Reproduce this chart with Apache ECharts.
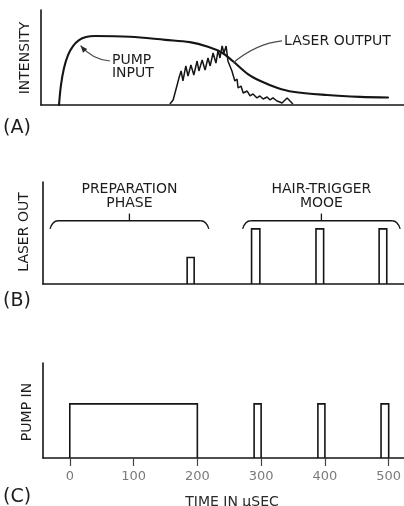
<!DOCTYPE html>
<html>
<head>
<meta charset="utf-8">
<script src="https://cdn.jsdelivr.net/npm/echarts@6/dist/echarts.min.js"></script>
<style>
  html, body { margin: 0; padding: 0; background: #fff; }
  #chart { width: 404px; height: 506px; }
</style>
</head>
<body>
<div id="chart"></div>
<script>
// (A) normal-mode pulse: time in arbitrary units (0-100), relative intensity (0-100)
const pumpInputA = [
  [4.96, 0], [5.51, 21.1], [6.34, 38.9], [7.44, 52.6], [8.82, 62.1], [10.47, 68.4],
  [12.4, 71.6], [14.9, 72.6], [24.5, 71.8], [34.2, 68.6], [41.0, 66.2], [46.0, 61.3],
  [49.9, 55.0], [52.9, 46.0], [57.0, 32.5], [60.3, 25.5], [65.0, 18.2], [69.4, 13.9],
  [78.8, 10.5], [87.9, 8.6], [95.6, 7.9]
];
const laserOutputA = [
  [35.5, 1.0], [36.4, 5.3], [37.5, 21.1], [38.0, 28.4], [38.6, 35.8], [39.1, 25.3],
  [39.9, 41.1], [40.5, 30.5], [41.3, 42.1], [42.1, 31.6], [43.0, 46.3], [43.5, 35.8],
  [44.4, 47.4], [45.2, 36.8], [46.0, 49.5], [46.6, 41.1], [47.4, 54.7], [48.2, 44.2],
  [48.8, 57.9], [49.3, 49.5], [49.9, 62.1], [50.4, 54.7], [51.0, 62.1], [51.5, 46.3],
  [51.8, 48.4], [52.6, 35.8], [52.9, 36.8], [53.4, 25.3], [54.0, 27.4], [54.3, 17.9],
  [55.1, 20.0], [55.7, 12.6], [56.8, 14.7], [57.6, 9.5], [58.4, 11.6], [59.5, 7.4],
  [60.3, 9.5], [61.2, 6.3], [62.3, 8.4], [63.1, 5.3], [63.9, 7.4], [65.0, 4.2],
  [65.8, 3.2], [66.4, 2.1], [66.9, 1.0], [67.8, 7.4], [69.4, 1.0]
];

// (B) and (C): time in µs
const timeTicks = [0, 100, 200, 300, 400, 500];
// pulses as [start µs, end µs, relative height]
const laserOutPulses = [[184, 195, 26], [285, 298, 54], [386, 398, 54], [485, 497, 54]];
const pumpInPulses = [[0, 200, 57], [289, 300, 57], [389, 400, 57], [488, 500, 57]];
// phase brackets over the laser-output trace: [from µs, to µs]
const phaseSpans = [[-31, 218], [271, 518]];
const phaseNames = [['PREPARATION', 'PHASE'], ['HAIR-TRIGGER', 'MOOE']];

const INK = '#151515';
const FONT = '"DejaVu Sans", sans-serif';

const chart = echarts.init(document.getElementById('chart'), null, { renderer: 'canvas' });

function plainAxis(extra) {
  return Object.assign({
    type: 'value',
    axisLine: { show: true, onZero: false, lineStyle: { color: INK, width: 1.6 } },
    axisTick: { show: false },
    axisLabel: { show: false },
    splitLine: { show: false }
  }, extra);
}

// open rectangular pulse drawn from the baseline
function renderPulse(params, api) {
  const base = api.coord([api.value(0), 0]);
  const top = api.coord([api.value(1), api.value(2)]);
  return {
    type: 'polyline',
    shape: { points: [[base[0], base[1]], [base[0], top[1]], [top[0], top[1]], [top[0], base[1]]] },
    style: { stroke: INK, fill: null, lineWidth: 1.6 }
  };
}

// curly bracket with its caption
function renderBracket(params, api) {
  const idx = params.dataIndex;
  const l = api.coord([api.value(0), 54]);
  const r = api.coord([api.value(1), 54]);
  const yFlat = api.coord([0, 62])[1];
  const yTop = api.coord([0, 69])[1];
  const cx = (l[0] + r[0]) / 2;
  const st = { stroke: INK, fill: null, lineWidth: 1.3 };
  const names = phaseNames[idx];
  const txt = (s, y) => ({
    type: 'text', x: cx, y: y,
    style: { text: s, font: '14px ' + FONT, fill: '#1c1c1c',
      align: 'center', verticalAlign: 'middle', textAlign: 'center', textVerticalAlign: 'middle' }
  });
  return {
    type: 'group',
    children: [
      { type: 'bezierCurve', shape: { x1: l[0], y1: l[1], cpx1: l[0] + 2.5, cpy1: yFlat, x2: l[0] + 8, y2: yFlat }, style: st },
      { type: 'line', shape: { x1: l[0] + 8, y1: yFlat, x2: r[0] - 8, y2: yFlat }, style: st },
      { type: 'bezierCurve', shape: { x1: r[0], y1: r[1], cpx1: r[0] - 2.5, cpy1: yFlat, x2: r[0] - 8, y2: yFlat }, style: st },
      { type: 'line', shape: { x1: cx, y1: yFlat, x2: cx, y2: yTop }, style: st },
      txt(names[0], yTop - 24),
      txt(names[1], yTop - 10)
    ]
  };
}

// callouts in panel (A)
function renderCallouts(params, api) {
  const children = [];
  const lead = { stroke: '#4a4a4a', fill: null, lineWidth: 1.2 };
  const textStyle = (s) => ({ text: s, font: '14px ' + FONT, fill: '#1c1c1c',
    align: 'left', verticalAlign: 'middle', textAlign: 'left', textVerticalAlign: 'middle' });

  // PUMP INPUT with arrow onto the pump curve
  const p0 = api.coord([19.0, 46.3]);
  const p1 = api.coord([10.9, 62.5]);
  const c1 = [p0[0] - 14, p0[1] - 1];
  const c2 = [p1[0] + 6, p1[1] + 7];
  children.push({ type: 'bezierCurve',
    shape: { x1: p0[0], y1: p0[1], cpx1: c1[0], cpy1: c1[1], cpx2: c2[0], cpy2: c2[1], x2: p1[0], y2: p1[1] },
    style: lead });
  const dx = p1[0] - c2[0], dy = p1[1] - c2[1];
  const len = Math.hypot(dx, dy);
  const ux = dx / len, uy = dy / len;
  const bx = p1[0] - ux * 7, by = p1[1] - uy * 7;
  children.push({ type: 'polygon',
    shape: { points: [[p1[0], p1[1]], [bx - uy * 2.8, by + ux * 2.8], [bx + uy * 2.8, by - ux * 2.8]] },
    style: { fill: '#2a2a2a', stroke: null } });
  children.push({ type: 'text', x: p0[0] + 2, y: p0[1] - 1, style: textStyle('PUMP') });
  children.push({ type: 'text', x: p0[0] + 2, y: p0[1] + 12, style: textStyle('INPUT') });

  // LASER OUTPUT leader to the crossing point
  const q0 = api.coord([66.4, 67.4]);
  const q1 = api.coord([52.9, 44.2]);
  children.push({ type: 'bezierCurve',
    shape: { x1: q0[0], y1: q0[1], cpx1: q0[0] - 20, cpy1: q0[1] + 2, cpx2: q1[0] + 12, cpy2: q1[1] - 10, x2: q1[0], y2: q1[1] },
    style: lead });
  children.push({ type: 'text', x: q0[0] + 2, y: q0[1], style: textStyle('LASER OUTPUT') });
  return { type: 'group', children };
}

const option = {
  animation: false,
  backgroundColor: '#ffffff',
  grid: [
    { left: 41, top: 10, width: 363, height: 95, outerBoundsMode: 'none' },
    { left: 43, top: 182, width: 361, height: 102, outerBoundsMode: 'none' },
    { left: 43, top: 363, width: 361, height: 95, outerBoundsMode: 'none' }
  ],
  xAxis: [
    plainAxis({ gridIndex: 0, min: 0, max: 100 }),
    plainAxis({ gridIndex: 1, min: -42, max: 524 }),
    plainAxis({
      gridIndex: 2, min: -42, max: 524,
      axisTick: { show: true, customValues: timeTicks, inside: false, length: 8,
        lineStyle: { color: '#444', width: 1.2 } },
      axisLabel: { show: true, customValues: timeTicks, margin: 12,
        color: '#7a7a7a', fontSize: 13, fontFamily: FONT }
    })
  ],
  yAxis: [
    plainAxis({ gridIndex: 0, min: 0, max: 100 }),
    plainAxis({ gridIndex: 1, min: 0, max: 100 }),
    plainAxis({ gridIndex: 2, min: 0, max: 100 })
  ],
  series: [
    { type: 'line', xAxisIndex: 0, yAxisIndex: 0, data: pumpInputA, symbol: 'none',
      smooth: 0.35, lineStyle: { color: INK, width: 2.1, join: 'round', cap: 'round' }, z: 3 },
    { type: 'line', xAxisIndex: 0, yAxisIndex: 0, data: laserOutputA, symbol: 'none',
      lineStyle: { color: INK, width: 1.5 }, z: 3 },
    { type: 'custom', xAxisIndex: 0, yAxisIndex: 0, data: [[0, 0]], renderItem: renderCallouts,
      clip: false, silent: true, z: 4 },
    { type: 'custom', xAxisIndex: 1, yAxisIndex: 1, data: laserOutPulses, encode: { x: [0, 1], y: 2 },
      renderItem: renderPulse, clip: false, z: 3 },
    { type: 'custom', xAxisIndex: 1, yAxisIndex: 1, data: phaseSpans, encode: { x: [0, 1] },
      renderItem: renderBracket, clip: false, silent: true, z: 3 },
    { type: 'custom', xAxisIndex: 2, yAxisIndex: 2, data: pumpInPulses, encode: { x: [0, 1], y: 2 },
      renderItem: renderPulse, clip: false, z: 3 }
  ],
  graphic: [
    { type: 'text', x: 25, y: 58, rotation: Math.PI / 2,
      style: { text: 'INTENSITY', font: '14px ' + FONT, fill: '#1c1c1c', textAlign: 'center', textVerticalAlign: 'middle' } },
    { type: 'text', x: 24, y: 232, rotation: Math.PI / 2,
      style: { text: 'LASER OUT', font: '14px ' + FONT, fill: '#1c1c1c', textAlign: 'center', textVerticalAlign: 'middle' } },
    { type: 'text', x: 27, y: 412, rotation: Math.PI / 2,
      style: { text: 'PUMP IN', font: '14px ' + FONT, fill: '#1c1c1c', textAlign: 'center', textVerticalAlign: 'middle' } },
    { type: 'text', x: 3, y: 128,
      style: { text: '(A)', font: '19px ' + FONT, fill: '#1c1c1c', textAlign: 'left', textVerticalAlign: 'middle' } },
    { type: 'text', x: 3, y: 301,
      style: { text: '(B)', font: '19px ' + FONT, fill: '#1c1c1c', textAlign: 'left', textVerticalAlign: 'middle' } },
    { type: 'text', x: 3, y: 497,
      style: { text: '(C)', font: '19px ' + FONT, fill: '#1c1c1c', textAlign: 'left', textVerticalAlign: 'middle' } },
    { type: 'text', x: 232, y: 502,
      style: { text: 'TIME IN µSEC', font: '14px ' + FONT, fill: '#2a2a2a', textAlign: 'center', textVerticalAlign: 'middle' } }
  ]
};

chart.setOption(option);
</script>
</body>
</html>
